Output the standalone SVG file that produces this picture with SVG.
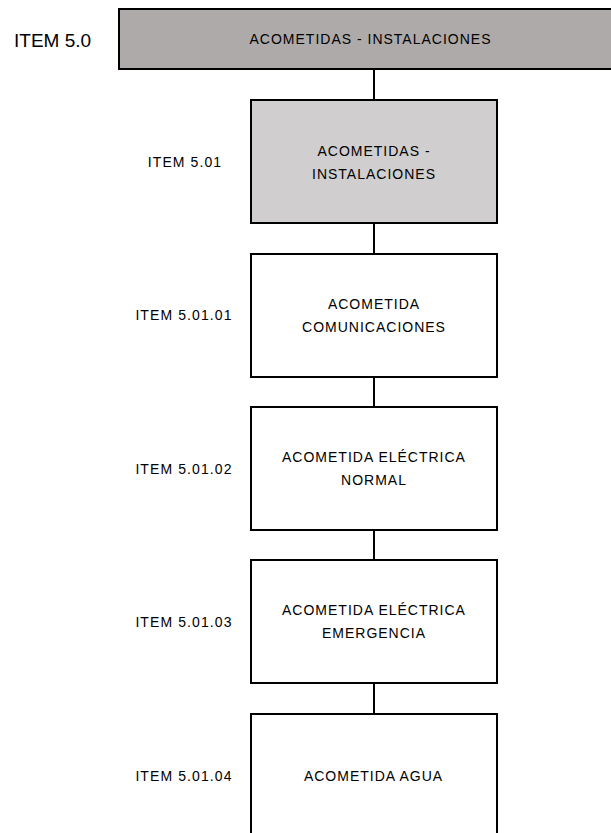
<svg xmlns="http://www.w3.org/2000/svg" width="611" height="833" viewBox="0 0 611 833">
<style>
.box{stroke:#000;stroke-width:2;fill:#fff}
.dark{fill:#aeaaaa}
.mid{fill:#d0cece}
.t{font-family:"Liberation Sans",Arial,sans-serif;font-size:14px;letter-spacing:1px;fill:#000;text-anchor:middle}
.lbl{font-family:"Liberation Sans",Arial,sans-serif;font-size:14px;letter-spacing:1.1px;fill:#000;text-anchor:middle}
.conn{stroke:#000;stroke-width:2;fill:none}
</style>
<rect width="611" height="833" fill="#fff"/>
<g id="connectors">
<line class="conn" x1="374" y1="69" x2="374" y2="100"/>
<line class="conn" x1="374" y1="223" x2="374" y2="254"/>
<line class="conn" x1="374" y1="377" x2="374" y2="407"/>
<line class="conn" x1="374" y1="530" x2="374" y2="560"/>
<line class="conn" x1="374" y1="683" x2="374" y2="714"/>
</g>
<g id="item-5-0">
<text x="14" y="47" font-family="Liberation Sans, Arial, sans-serif" font-size="19" fill="#000">ITEM 5.0</text>
<rect class="box dark" x="119" y="9" width="520" height="60"/>
<text class="t" x="370.5" y="44">ACOMETIDAS - INSTALACIONES</text>
</g>
<g id="item-5-01">
<text class="lbl" x="185" y="167">ITEM 5.01</text>
<rect class="box mid" x="251" y="100" width="246" height="123"/>
<text class="t" x="374" y="156">ACOMETIDAS -</text>
<text class="t" x="374" y="179">INSTALACIONES</text>
</g>
<g id="item-5-01-01">
<text class="lbl" x="184" y="320">ITEM 5.01.01</text>
<rect class="box" x="251" y="254" width="246" height="123"/>
<text class="t" x="374" y="309">ACOMETIDA</text>
<text class="t" x="374" y="332">COMUNICACIONES</text>
</g>
<g id="item-5-01-02">
<text class="lbl" x="184" y="473.5">ITEM 5.01.02</text>
<rect class="box" x="251" y="407" width="246" height="123"/>
<text class="t" x="374" y="462">ACOMETIDA ELÉCTRICA</text>
<text class="t" x="374" y="485">NORMAL</text>
</g>
<g id="item-5-01-03">
<text class="lbl" x="184" y="626.5">ITEM 5.01.03</text>
<rect class="box" x="251" y="560" width="246" height="123"/>
<text class="t" x="374" y="615">ACOMETIDA ELÉCTRICA</text>
<text class="t" x="374" y="638">EMERGENCIA</text>
</g>
<g id="item-5-01-04">
<text class="lbl" x="184" y="780.5">ITEM 5.01.04</text>
<rect class="box" x="251" y="714" width="246" height="123"/>
<text class="t" x="373.5" y="780.5">ACOMETIDA AGUA</text>
</g>
</svg>
